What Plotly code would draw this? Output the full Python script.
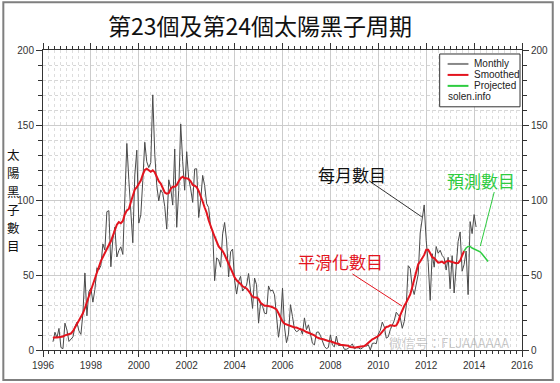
import plotly.graph_objects as go

# ---------------- data ----------------
monthly_start = (1996, 5)
monthly = [
    5.5, 11.8, 8.2, 14.4, 1.6, 0.9, 17.9, 13.3,
    5.7, 7.6, 8.7, 15.5, 18.5, 12.7, 10.4, 24.4, 51.3, 22.8, 39.0, 41.2,
    31.9, 40.3, 54.8, 53.4, 56.3, 70.7, 66.6, 92.2, 92.9, 55.5, 74.0, 81.9,
    62.0, 66.3, 68.8, 63.7, 106.4, 137.7, 113.5, 93.7, 71.5, 116.7, 133.2, 84.6,
    90.1, 112.9, 138.5, 125.5, 121.6, 124.9, 170.1, 130.5, 109.7, 99.4, 106.8, 104.4,
    95.6, 80.6, 113.5, 107.7, 96.6, 134.0, 81.8, 106.4, 150.7, 125.5, 106.5, 132.2,
    114.1, 107.4, 98.4, 120.7, 120.8, 88.3, 99.6, 116.4, 109.6, 97.5, 95.0, 81.6,
    79.5, 46.2, 61.5, 60.0, 55.2, 77.4, 85.0, 72.7, 48.8, 65.5, 67.3, 46.5,
    37.3, 45.8, 49.1, 39.3, 41.5, 43.2, 51.0, 40.9, 27.7, 48.0, 43.5, 17.9,
    31.3, 29.2, 24.5, 24.2, 42.7, 39.3, 40.0, 36.8, 22.9, 8.5, 18.0, 41.2,
    15.3, 4.9, 10.6, 30.2, 22.3, 13.9, 12.2, 12.9, 14.4, 10.5, 21.4, 13.6,
    16.8, 10.7, 4.5, 3.4, 11.7, 12.1, 9.7, 6.0, 2.4, 0.9, 1.7, 10.1,
    3.3, 2.1, 9.3, 2.9, 3.2, 3.4, 0.5, 0.5, 1.1, 2.9, 4.1, 0.8,
    1.5, 1.4, 0.7, 1.2, 2.9, 2.6, 3.5, 0.0, 4.4, 4.6, 4.2, 10.6,
    13.1, 18.6, 15.4, 7.9, 8.8, 13.5, 16.1, 19.6, 25.2, 23.5, 21.6, 14.5,
    19.0, 29.4, 56.2, 54.4, 41.6, 37.0, 43.8, 50.6, 78.0, 88.0, 96.7, 73.0,
    58.3, 33.1, 64.2, 55.2, 69.0, 64.5, 66.5, 63.0, 61.4, 53.3, 61.8, 40.8,
    62.9, 38.0, 57.9, 72.4, 78.7, 52.5, 57.0, 66.0, 36.9, 85.6, 77.6, 90.3,
    82.0,
]

smoothed_start = (1996, 5)
smoothed = [
    8.0, 8.5, 8.4, 8.5, 8.6, 9.0, 9.8, 10.2,
    10.5, 11.0, 12.5, 14.8, 17.2, 19.5, 21.5, 24.5, 28.0, 32.0, 35.9, 39.5,
    43.5, 48.0, 52.5, 56.0, 59.3, 62.0, 65.0, 67.6, 70.0, 72.5, 76.5, 81.0,
    83.5, 85.3, 84.5, 86.0, 90.5, 93.0, 94.0, 98.5, 102.5, 107.0, 108.5, 111.0,
    113.0, 117.0, 120.0, 120.8, 119.5, 118.8, 119.8, 118.5, 115.5, 112.5, 111.0, 108.5,
    105.0, 104.2, 104.5, 107.5, 108.8, 108.8, 110.0, 112.5, 114.5, 115.5, 114.5, 114.5,
    114.0, 112.5, 110.0, 109.5, 108.5, 106.0, 103.0, 99.0, 95.0, 91.5, 86.5, 82.0,
    79.0, 75.5, 71.5, 69.0, 67.5, 66.0, 63.5, 60.5, 57.5, 54.0, 50.5, 48.5,
    46.5, 45.5, 44.0, 42.5, 42.0, 41.0, 39.5, 37.5, 35.5, 35.0, 35.0, 34.0,
    31.5, 30.5, 29.5, 29.5, 29.5, 29.0, 28.5, 28.0, 27.0, 24.5, 21.5, 19.0,
    17.5, 17.0, 16.0, 15.5, 15.2, 15.0, 15.0, 14.2, 13.8, 13.5, 12.5, 12.0,
    11.5, 11.0, 10.5, 9.8, 8.6, 7.8, 7.5, 7.3, 6.8, 6.2, 6.0, 5.8,
    5.1, 4.8, 4.3, 4.2, 3.5, 3.3, 3.4, 3.3, 2.8, 2.0, 1.7, 1.7,
    1.8, 1.9, 2.0, 2.1, 2.6, 3.6, 4.8, 6.1, 7.1, 7.7, 8.3, 9.3,
    10.6, 12.3, 14.0, 15.4, 15.6, 16.5, 16.4, 16.0, 16.4, 18.8, 23.2, 26.5,
    29.3, 31.7, 34.4, 37.0, 41.8, 47.6, 53.2, 57.2, 59.0, 61.1, 63.4, 66.9,
    66.9, 64.5, 61.9, 61.3, 59.5, 58.2, 58.5, 58.9, 57.8, 59.0, 59.5, 59.0,
    58.5, 58.0, 57.9, 58.0, 59.5, 63.0, 66.0,
]

projected_start = (2013, 7)
projected = [66.0, 68.0, 69.0, 69.0, 68.0, 67.5, 67.0, 66.5, 65.5, 64.0, 62.5, 61.0, 59.0]

x_ticks = [1996, 1998, 2000, 2002, 2004, 2006, 2008, 2010, 2012, 2014, 2016]
y_ticks = [0, 50, 100, 150, 200]

title_text = "第23個及第24個太陽黑子周期"
y_title = "太陽黑子數目"
label_monthly = "每月數目"
label_smoothed = "平滑化數目"
label_projected = "預測數目"
legend_names = ["Monthly", "Smoothed", "Projected"]
source_text = "solen.info"
watermark = "微信号：FLJAAAAAA"

C_MONTHLY = "#4a4a4a"
C_SMOOTH = "#e3141e"
C_PROJ = "#2ecc40"


def month_axis(start, n):
    y0, m0 = start
    return [y0 + (m0 + i) / 12.0 for i in range(n)]


x_m = month_axis(monthly_start, len(monthly))
x_s = month_axis(smoothed_start, len(smoothed))
x_p = month_axis(projected_start, len(projected))

fig = go.Figure()
fig.add_trace(go.Scatter(x=x_m, y=monthly, mode="lines", name=legend_names[0],
                         line=dict(color=C_MONTHLY, width=1), showlegend=False))
fig.add_trace(go.Scatter(x=x_s, y=smoothed, mode="lines", name=legend_names[1],
                         line=dict(color=C_SMOOTH, width=2), showlegend=False))
fig.add_trace(go.Scatter(x=x_p, y=projected, mode="lines", name=legend_names[2],
                         line=dict(color=C_PROJ, width=1.5), showlegend=False))
# invisible trace to attach the top / right mirror axes
fig.add_trace(go.Scatter(x=[x_ticks[0]], y=[y_ticks[0]], xaxis="x2", yaxis="y2",
                         mode="markers", marker=dict(opacity=0), showlegend=False,
                         hoverinfo="skip"))

tickfont = dict(family="Liberation Sans, Arial", size=10, color="#333333")
axis_common = dict(
    showline=True, linecolor="#333333", linewidth=1,
    ticks="outside", ticklen=6, tickcolor="#333333", tickwidth=1,
    zeroline=False, tickfont=tickfont,
)

fig.update_layout(
    width=560, height=383,
    margin=dict(l=43, r=34, t=50, b=32),
    paper_bgcolor="white", plot_bgcolor="white",
    showlegend=False,
    xaxis=dict(range=[1996, 2016], tickmode="array", tickvals=x_ticks,
               ticktext=[str(v) for v in x_ticks],
               showgrid=True, gridcolor="#cccccc", gridwidth=1,
               minor=dict(dtick=0.25, tick0=1996, ticks="outside", ticklen=3,
                          tickcolor="#333333", showgrid=True, gridcolor="#dddddd",
                          griddash="dot"),
               **axis_common),
    yaxis=dict(range=[0, 200], tickmode="array", tickvals=y_ticks,
               showgrid=True, gridcolor="#cccccc", gridwidth=1,
               minor=dict(dtick=10, tick0=0, ticks="outside", ticklen=4,
                          tickcolor="#333333", showgrid=True, gridcolor="#d6d6d6",
                          griddash="dot"),
               **axis_common),
    xaxis2=dict(range=[1996, 2016], overlaying="x", side="top", anchor="y2",
                tickmode="array", tickvals=x_ticks, showticklabels=False,
                showgrid=False,
                minor=dict(dtick=0.25, tick0=1996, ticks="outside", ticklen=3,
                           tickcolor="#333333"),
                **axis_common),
    yaxis2=dict(range=[0, 200], overlaying="y", side="right", anchor="x2",
                tickmode="array", tickvals=y_ticks, showgrid=False,
                minor=dict(dtick=10, tick0=0, ticks="outside", ticklen=4,
                           tickcolor="#333333"),
                **axis_common),
)

cjk = "Noto Sans CJK TC, Noto Sans CJK SC, sans-serif"
lat = "Liberation Sans, Arial"


def px_x(p):
    return (p - 43) / 483


def px_y(p):
    return (351 - p) / 301


def ann(text, x, y, xref="paper", yref="paper", xanchor="center", size=10,
        color="#222222", family=lat):
    return dict(text=text, x=x, y=y, xref=xref, yref=yref, xanchor=xanchor,
                yanchor="middle", showarrow=False,
                font=dict(family=family, size=size, color=color))


annotations = [
    ann(title_text, 0.4534, px_y(25), size=23, color="#111111", family=cjk),
    ann(label_monthly, 2008.92, 117.3, "x", "y", size=17, color="#111111", family=cjk),
    ann(label_smoothed, 2008.42, 59.3, "x", "y", size=17, color=C_SMOOTH, family=cjk),
    ann(label_projected, 2014.30, 112.7, "x", "y", size=17, color=C_PROJ, family=cjk),
    # legend texts
    ann(legend_names[0], px_x(476), px_y(64), xanchor="left"),
    ann(legend_names[1], px_x(476), px_y(75), xanchor="left"),
    ann(legend_names[2], px_x(476), px_y(86), xanchor="left"),
    ann(source_text, px_x(449), px_y(97), xanchor="left"),
    ann(watermark, px_x(390), px_y(343), xanchor="left", size=13,
        color="rgba(150,150,150,0.5)", family=cjk),
]
# vertical axis title, one character per line
for i, ch in enumerate(y_title):
    annotations.append(ann(ch, px_x(13), px_y(155 + i * 18.3), size=12.5,
                           color="#111111", family=cjk))
fig.update_layout(annotations=annotations)

shapes = [
    # pointer lines
    dict(type="line", xref="x", yref="y", x0=2009.62, y0=112.7, x1=2011.82, y1=88.7,
         line=dict(color="#333333", width=1)),
    dict(type="line", xref="x", yref="y", x0=2008.92, y0=50.7, x1=2010.99, y1=29.3,
         line=dict(color=C_SMOOTH, width=1)),
    dict(type="line", xref="x", yref="y", x0=2014.84, y0=105.3, x1=2014.26, y1=69.3,
         line=dict(color=C_PROJ, width=1)),
    # legend box
    dict(type="rect", xref="paper", yref="paper", x0=px_x(443), x1=px_x(524),
         y0=px_y(107), y1=px_y(54),
         fillcolor="white", line=dict(color="#333333", width=1), layer="above"),
    dict(type="line", xref="paper", yref="paper", x0=px_x(451), x1=px_x(472),
         y0=px_y(64), y1=px_y(64), line=dict(color="#888888", width=2)),
    dict(type="line", xref="paper", yref="paper", x0=px_x(451), x1=px_x(472),
         y0=px_y(75), y1=px_y(75), line=dict(color=C_SMOOTH, width=2)),
    dict(type="line", xref="paper", yref="paper", x0=px_x(451), x1=px_x(472),
         y0=px_y(86), y1=px_y(86), line=dict(color=C_PROJ, width=2)),
    # outer border
    dict(type="rect", xref="paper", yref="paper", x0=px_x(3), x1=px_x(557),
         y0=px_y(381), y1=px_y(2), line=dict(color="#7f7f7f", width=2),
         fillcolor="rgba(0,0,0,0)"),
]
fig.update_layout(shapes=shapes)

fig.write_html("out.html", config={"displayModeBar": False},
               post_script="document.body.style.margin='0';document.body.style.padding='0';")
